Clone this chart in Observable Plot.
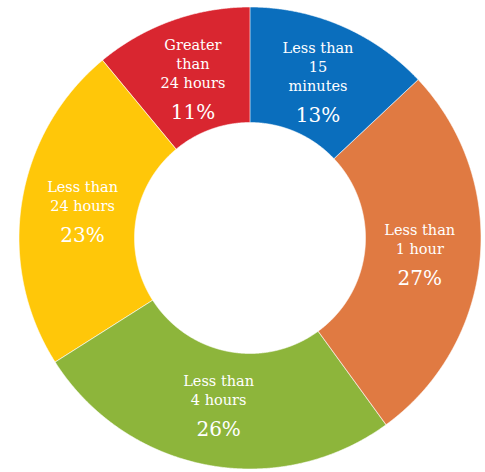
<!DOCTYPE html>
<html>
<head>
<meta charset="utf-8">
<script src="https://cdn.jsdelivr.net/npm/d3@7"></script>
<script src="https://cdn.jsdelivr.net/npm/@observablehq/plot@0.6"></script>
<style>
  html, body { margin: 0; padding: 0; background: #fff; }
  #chart svg { display: block; }
</style>
</head>
<body>
<div id="chart"></div>
<script>
// ---- data ----
const categories = ["Less than 15 minutes", "Less than 1 hour", "Less than 4 hours", "Less than 24 hours", "Greater than 24 hours"];
const labelLines = [["Less than", "15", "minutes"], ["Less than", "1 hour"], ["Less than", "4 hours"], ["Less than", "24 hours"], ["Greater", "than", "24 hours"]];
const values = [13, 27, 26, 23, 11];
const colors = ["#0a6ebd", "#e07a42", "#8db53b", "#ffc709", "#d92630"];

// ---- layout ----
const W = 485, H = 472;
const cx = 250, cy = 238, R = 231;
const innerRatio = 0.5;
const labelRadius = 0.736;

const arcs = d3.pie().sort(null).value(d => d)(values);

// annular sectors as areas (outer edge x1,y1 ; inner edge x2,y2)
const ring = [];
arcs.forEach((a, i) => {
  const n = Math.ceil((a.endAngle - a.startAngle) / 0.004);
  for (let k = 0; k <= n; k++) {
    const t = a.startAngle + (a.endAngle - a.startAngle) * k / n;
    ring.push({
      cat: categories[i], color: colors[i],
      x1: Math.sin(t), y1: Math.cos(t),
      x2: innerRatio * Math.sin(t), y2: innerRatio * Math.cos(t)
    });
  }
});

// text lines
const lineGap = 19, pctGap = 31, capH = 11;
const texts = [];
arcs.forEach((a, i) => {
  const mid = (a.startAngle + a.endAngle) / 2;
  const lx = labelRadius * Math.sin(mid), ly = labelRadius * Math.cos(mid);
  const lines = labelLines[i];
  const n = lines.length;
  const blockH = lineGap * (n - 1) + pctGap + capH;
  const first = -blockH / 2 + capH;
  lines.forEach((s, j) => {
    texts.push({x: lx, y: ly - (first + j * lineGap) / R, text: s, kind: "label"});
  });
  texts.push({x: lx, y: ly - (first + (n - 1) * lineGap + pctGap) / R, text: values[i] + "%", kind: "pct"});
});

const chart = Plot.plot({
  width: W, height: H,
  margin: 0,
  x: {domain: [-1, 1], range: [cx - R, cx + R], axis: null},
  y: {domain: [-1, 1], range: [cy + R, cy - R], axis: null},
  style: {background: "#fff"},
  marks: [
    Plot.area(ring, {x1: "x1", y1: "y1", x2: "x2", y2: "y2", z: "cat", fill: "color", stroke: "#fff", strokeWidth: 0.6, curve: "linear"}),
    Plot.text(texts.filter(d => d.kind === "label"), {x: "x", y: "y", text: "text", fill: "#fff", fontSize: 14.5, fontFamily: "DejaVu Serif", lineAnchor: "bottom", textAnchor: "middle"}),
    Plot.text(texts.filter(d => d.kind === "pct"), {x: "x", y: "y", text: "text", fill: "#fff", fontSize: 20, fontFamily: "DejaVu Serif", lineAnchor: "bottom", textAnchor: "middle"})
  ]
});
document.getElementById("chart").appendChild(chart);
</script>
</body>
</html>
